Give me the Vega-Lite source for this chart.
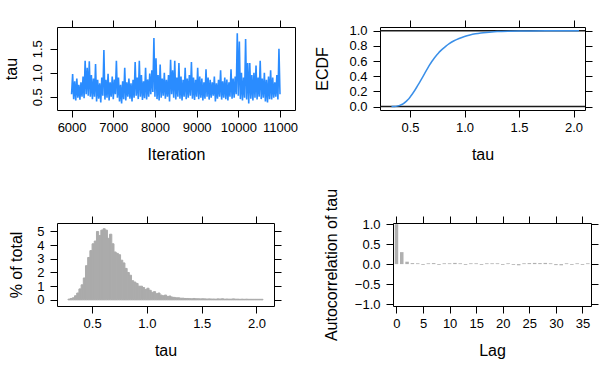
{
  "$schema": "https://vega.github.io/schema/vega-lite/v6.json",
  "padding": {"left": 2, "top": 19, "right": 5, "bottom": 5},
  "background": "white",
  "datasets": {
    "trace": [
      {"i":6000,"t":0.55},{"i":6025,"t":0.97},{"i":6050,"t":0.45},{"i":6075,"t":0.82},{"i":6100,"t":0.42},{"i":6125,"t":0.88},{"i":6150,"t":0.48},{"i":6175,"t":0.75},{"i":6200,"t":0.44},{"i":6225,"t":0.80},
      {"i":6250,"t":0.50},{"i":6275,"t":0.92},{"i":6300,"t":0.47},{"i":6325,"t":1.25},{"i":6350,"t":0.55},{"i":6375,"t":1.10},{"i":6400,"t":0.52},{"i":6425,"t":1.24},{"i":6450,"t":0.50},{"i":6475,"t":0.95},
      {"i":6500,"t":0.45},{"i":6525,"t":0.88},{"i":6550,"t":0.50},{"i":6575,"t":1.18},{"i":6600,"t":0.40},{"i":6625,"t":0.85},{"i":6650,"t":0.46},{"i":6675,"t":0.78},{"i":6700,"t":0.38},{"i":6725,"t":0.90},
      {"i":6750,"t":0.52},{"i":6775,"t":1.47},{"i":6800,"t":0.44},{"i":6825,"t":0.85},{"i":6850,"t":0.48},{"i":6875,"t":0.98},{"i":6900,"t":0.42},{"i":6925,"t":0.80},{"i":6950,"t":0.50},{"i":6975,"t":0.92},
      {"i":7000,"t":0.45},{"i":7025,"t":0.86},{"i":7050,"t":0.55},{"i":7075,"t":1.25},{"i":7100,"t":0.48},{"i":7125,"t":0.90},{"i":7150,"t":0.40},{"i":7175,"t":0.75},{"i":7200,"t":0.36},{"i":7225,"t":0.82},
      {"i":7250,"t":0.45},{"i":7275,"t":1.10},{"i":7300,"t":0.42},{"i":7325,"t":0.80},{"i":7350,"t":0.50},{"i":7375,"t":0.88},{"i":7400,"t":0.46},{"i":7425,"t":0.78},{"i":7450,"t":0.40},{"i":7475,"t":0.85},
      {"i":7500,"t":0.48},{"i":7525,"t":1.22},{"i":7550,"t":0.52},{"i":7575,"t":0.90},{"i":7600,"t":0.45},{"i":7625,"t":1.25},{"i":7650,"t":0.50},{"i":7675,"t":0.95},{"i":7700,"t":0.43},{"i":7725,"t":0.82},
      {"i":7750,"t":0.47},{"i":7775,"t":1.10},{"i":7800,"t":0.44},{"i":7825,"t":0.86},{"i":7850,"t":0.50},{"i":7875,"t":0.98},{"i":7900,"t":0.55},{"i":7925,"t":1.05},{"i":7950,"t":0.60},{"i":7975,"t":1.72},
      {"i":8000,"t":0.50},{"i":8025,"t":1.30},{"i":8050,"t":0.45},{"i":8075,"t":0.95},{"i":8100,"t":0.42},{"i":8125,"t":1.17},{"i":8150,"t":0.48},{"i":8175,"t":0.88},{"i":8200,"t":0.52},{"i":8225,"t":1.00},
      {"i":8250,"t":0.46},{"i":8275,"t":0.85},{"i":8300,"t":0.50},{"i":8325,"t":0.95},{"i":8350,"t":0.40},{"i":8375,"t":1.27},{"i":8400,"t":0.55},{"i":8425,"t":1.05},{"i":8450,"t":0.48},{"i":8475,"t":1.25},
      {"i":8500,"t":0.44},{"i":8525,"t":0.90},{"i":8550,"t":0.50},{"i":8575,"t":1.20},{"i":8600,"t":0.46},{"i":8625,"t":0.92},{"i":8650,"t":0.42},{"i":8675,"t":0.85},{"i":8700,"t":0.50},{"i":8725,"t":1.10},
      {"i":8750,"t":0.45},{"i":8775,"t":0.88},{"i":8800,"t":0.48},{"i":8825,"t":0.95},{"i":8850,"t":0.52},{"i":8875,"t":1.22},{"i":8900,"t":0.46},{"i":8925,"t":0.90},{"i":8950,"t":0.43},{"i":8975,"t":0.85},
      {"i":9000,"t":0.50},{"i":9025,"t":1.10},{"i":9050,"t":0.45},{"i":9075,"t":0.92},{"i":9100,"t":0.48},{"i":9125,"t":0.88},{"i":9150,"t":0.42},{"i":9175,"t":0.80},{"i":9200,"t":0.46},{"i":9225,"t":1.07},
      {"i":9250,"t":0.50},{"i":9275,"t":0.90},{"i":9300,"t":0.44},{"i":9325,"t":0.85},{"i":9350,"t":0.48},{"i":9375,"t":0.80},{"i":9400,"t":0.52},{"i":9425,"t":0.92},{"i":9450,"t":0.40},{"i":9475,"t":0.78},
      {"i":9500,"t":0.46},{"i":9525,"t":0.85},{"i":9550,"t":0.50},{"i":9575,"t":1.05},{"i":9600,"t":0.44},{"i":9625,"t":0.82},{"i":9650,"t":0.48},{"i":9675,"t":0.90},{"i":9700,"t":0.45},{"i":9725,"t":0.86},
      {"i":9750,"t":0.42},{"i":9775,"t":0.80},{"i":9800,"t":0.50},{"i":9825,"t":1.07},{"i":9850,"t":0.46},{"i":9875,"t":0.88},{"i":9900,"t":0.48},{"i":9925,"t":0.92},{"i":9950,"t":0.55},{"i":9975,"t":1.82},
      {"i":10000,"t":0.52},{"i":10025,"t":1.65},{"i":10050,"t":0.45},{"i":10075,"t":1.00},{"i":10100,"t":0.42},{"i":10125,"t":0.90},{"i":10150,"t":0.48},{"i":10175,"t":1.70},{"i":10200,"t":0.44},{"i":10225,"t":1.20},
      {"i":10250,"t":0.36},{"i":10275,"t":1.20},{"i":10300,"t":0.46},{"i":10325,"t":0.95},{"i":10350,"t":0.42},{"i":10375,"t":1.00},{"i":10400,"t":0.48},{"i":10425,"t":1.15},{"i":10450,"t":0.44},{"i":10475,"t":0.90},
      {"i":10500,"t":0.50},{"i":10525,"t":1.25},{"i":10550,"t":0.45},{"i":10575,"t":0.88},{"i":10600,"t":0.48},{"i":10625,"t":1.00},{"i":10650,"t":0.40},{"i":10675,"t":0.85},{"i":10700,"t":0.38},{"i":10725,"t":0.92},
      {"i":10750,"t":0.45},{"i":10775,"t":1.05},{"i":10800,"t":0.44},{"i":10825,"t":0.90},{"i":10850,"t":0.48},{"i":10875,"t":0.80},{"i":10900,"t":0.50},{"i":10925,"t":0.95},{"i":10950,"t":0.44},{"i":10975,"t":1.50},
      {"i":11000,"t":0.55}
    ],
    "ecdf": [
      {"x":0.33,"F":0},{"x":0.36,"F":0.002},{"x":0.38,"F":0.006},{"x":0.40,"F":0.013},{"x":0.42,"F":0.024},{"x":0.44,"F":0.04},{"x":0.46,"F":0.062},{"x":0.48,"F":0.09},{"x":0.50,"F":0.124},{"x":0.52,"F":0.163},{"x":0.54,"F":0.206},{"x":0.56,"F":0.252},{"x":0.58,"F":0.30},{"x":0.60,"F":0.35},{"x":0.62,"F":0.40},{"x":0.64,"F":0.45},{"x":0.66,"F":0.50},{"x":0.68,"F":0.55},{"x":0.70,"F":0.595},{"x":0.72,"F":0.635},{"x":0.74,"F":0.672},{"x":0.76,"F":0.705},{"x":0.78,"F":0.735},{"x":0.80,"F":0.762},{"x":0.83,"F":0.798},{"x":0.86,"F":0.83},{"x":0.90,"F":0.865},{"x":0.95,"F":0.898},{"x":1.00,"F":0.925},{"x":1.05,"F":0.945},{"x":1.10,"F":0.96},{"x":1.15,"F":0.971},{"x":1.20,"F":0.979},{"x":1.25,"F":0.985},{"x":1.30,"F":0.989},{"x":1.40,"F":0.994},{"x":1.50,"F":0.997},{"x":1.60,"F":0.998},{"x":1.75,"F":0.999},{"x":1.90,"F":0.9995},{"x":2.05,"F":1.0}
    ],
    "hist": [
      {"lo":0.28,"hi":0.30,"p":0.05},{"lo":0.30,"hi":0.32,"p":0.1},{"lo":0.32,"hi":0.34,"p":0.15},{"lo":0.34,"hi":0.36,"p":0.3},{"lo":0.36,"hi":0.38,"p":0.5},{"lo":0.38,"hi":0.40,"p":0.8},{"lo":0.40,"hi":0.42,"p":1.1},{"lo":0.42,"hi":0.44,"p":1.6},{"lo":0.44,"hi":0.46,"p":2.5},{"lo":0.46,"hi":0.48,"p":3.1},
      {"lo":0.48,"hi":0.50,"p":3.6},{"lo":0.50,"hi":0.52,"p":4.1},{"lo":0.52,"hi":0.54,"p":4.3},{"lo":0.54,"hi":0.56,"p":5.0},{"lo":0.56,"hi":0.58,"p":4.7},{"lo":0.58,"hi":0.60,"p":5.1},{"lo":0.60,"hi":0.62,"p":5.2},{"lo":0.62,"hi":0.64,"p":5.1},{"lo":0.64,"hi":0.66,"p":4.5},{"lo":0.66,"hi":0.68,"p":4.8},
      {"lo":0.68,"hi":0.70,"p":4.1},{"lo":0.70,"hi":0.72,"p":3.5},{"lo":0.72,"hi":0.74,"p":3.4},{"lo":0.74,"hi":0.76,"p":3.3},{"lo":0.76,"hi":0.78,"p":2.9},{"lo":0.78,"hi":0.80,"p":2.7},{"lo":0.80,"hi":0.82,"p":2.3},{"lo":0.82,"hi":0.84,"p":2.0},{"lo":0.84,"hi":0.86,"p":1.8},{"lo":0.86,"hi":0.88,"p":1.4},
      {"lo":0.88,"hi":0.90,"p":1.3},{"lo":0.90,"hi":0.92,"p":1.2},{"lo":0.92,"hi":0.94,"p":1.0},{"lo":0.94,"hi":0.96,"p":1.0},{"lo":0.96,"hi":0.98,"p":0.9},{"lo":0.98,"hi":1.00,"p":0.75},{"lo":1.00,"hi":1.02,"p":0.85},{"lo":1.02,"hi":1.04,"p":0.7},{"lo":1.04,"hi":1.06,"p":0.55},{"lo":1.06,"hi":1.08,"p":0.6},
      {"lo":1.08,"hi":1.10,"p":0.45},{"lo":1.10,"hi":1.12,"p":0.5},{"lo":1.12,"hi":1.14,"p":0.35},{"lo":1.14,"hi":1.16,"p":0.3},{"lo":1.16,"hi":1.18,"p":0.35},{"lo":1.18,"hi":1.20,"p":0.25},{"lo":1.20,"hi":1.22,"p":0.28},{"lo":1.22,"hi":1.24,"p":0.2},{"lo":1.24,"hi":1.26,"p":0.18},{"lo":1.26,"hi":1.28,"p":0.15},
      {"lo":1.28,"hi":1.30,"p":0.15},{"lo":1.30,"hi":1.32,"p":0.12},{"lo":1.32,"hi":1.34,"p":0.12},{"lo":1.34,"hi":1.36,"p":0.1},{"lo":1.36,"hi":1.38,"p":0.1},{"lo":1.38,"hi":1.40,"p":0.09},{"lo":1.40,"hi":1.42,"p":0.08},{"lo":1.42,"hi":1.44,"p":0.1},{"lo":1.44,"hi":1.46,"p":0.08},{"lo":1.46,"hi":1.48,"p":0.08},
      {"lo":1.48,"hi":1.50,"p":0.07},{"lo":1.50,"hi":1.52,"p":0.08},{"lo":1.52,"hi":1.54,"p":0.07},{"lo":1.54,"hi":1.56,"p":0.06},{"lo":1.56,"hi":1.58,"p":0.07},{"lo":1.58,"hi":1.60,"p":0.06},{"lo":1.60,"hi":1.62,"p":0.06},{"lo":1.62,"hi":1.64,"p":0.05},{"lo":1.64,"hi":1.66,"p":0.07},{"lo":1.66,"hi":1.68,"p":0.06},
      {"lo":1.68,"hi":1.70,"p":0.08},{"lo":1.70,"hi":1.72,"p":0.05},{"lo":1.72,"hi":1.74,"p":0.06},{"lo":1.74,"hi":1.76,"p":0.05},{"lo":1.76,"hi":1.78,"p":0.05},{"lo":1.78,"hi":1.80,"p":0.07},{"lo":1.80,"hi":1.82,"p":0.05},{"lo":1.82,"hi":1.84,"p":0.05},{"lo":1.84,"hi":1.86,"p":0.04},{"lo":1.86,"hi":1.88,"p":0.05},
      {"lo":1.88,"hi":1.90,"p":0.04},{"lo":1.90,"hi":1.92,"p":0.05},{"lo":1.92,"hi":1.94,"p":0.04},{"lo":1.94,"hi":1.96,"p":0.04},{"lo":1.96,"hi":1.98,"p":0.04},{"lo":1.98,"hi":2.00,"p":0.04},{"lo":2.00,"hi":2.02,"p":0.04},{"lo":2.02,"hi":2.04,"p":0.04},{"lo":2.04,"hi":2.06,"p":0.04}
    ],
    "acf": [
      {"lag":0,"a":1.0},{"lag":1,"a":0.30},{"lag":2,"a":0.06},{"lag":3,"a":0.025},{"lag":4,"a":0.02},{"lag":5,"a":-0.02},{"lag":6,"a":0.02},{"lag":7,"a":0.025},{"lag":8,"a":-0.02},{"lag":9,"a":0.02},
      {"lag":10,"a":0.02},{"lag":11,"a":0.03},{"lag":12,"a":0.02},{"lag":13,"a":-0.02},{"lag":14,"a":0.02},{"lag":15,"a":0.02},{"lag":16,"a":-0.02},{"lag":17,"a":0.02},{"lag":18,"a":0.02},{"lag":19,"a":0.02},
      {"lag":20,"a":-0.02},{"lag":21,"a":0.02},{"lag":22,"a":-0.02},{"lag":23,"a":-0.03},{"lag":24,"a":0.02},{"lag":25,"a":0.025},{"lag":26,"a":0.03},{"lag":27,"a":0.025},{"lag":28,"a":0.03},{"lag":29,"a":0.02},
      {"lag":30,"a":-0.025},{"lag":31,"a":-0.03},{"lag":32,"a":0.02},{"lag":33,"a":-0.02},{"lag":34,"a":0.02},{"lag":35,"a":-0.02},{"lag":36,"a":0.02}
    ]
  },
  "vconcat": [
    {
      "bounds": "flush",
      "spacing": 85,
      "hconcat": [
        {
          "width": 238, "height": 83,
          "data": {"name": "trace"},
          "layer": [
            {
              "mark": {"type": "line", "color": "#2a8cff", "strokeWidth": 1.6},
              "encoding": {
                "x": {"field": "i", "type": "quantitative", "scale": {"domain": [5650, 11360], "nice": false, "zero": false},
                      "axis": {"orient": "bottom", "values": [6000, 7000, 8000, 9000, 10000, 11000], "format": "d", "title": "Iteration"}},
                "y": {"field": "t", "type": "quantitative", "scale": {"domain": [0.223, 1.952], "nice": false, "zero": false},
                      "axis": {"orient": "left", "values": [0.5, 1.0, 1.5], "format": ".1f", "title": "tau", "labelAngle": -90, "labelAlign": "center", "labelBaseline": "bottom", "labelPadding": 6}}
              }
            },
            {
              "mark": {"type": "point", "opacity": 0},
              "encoding": {
                "x": {"field": "i", "type": "quantitative", "axis": {"orient": "top", "values": [6000, 7000, 8000, 9000, 10000, 11000], "labels": false, "title": null}},
                "y": {"field": "t", "type": "quantitative", "axis": null}
              }
            }
          ],
          "resolve": {"axis": {"x": "independent", "y": "independent"}}
        },
        {
          "width": 205, "height": 83,
          "layer": [
            {
              "data": {"values": [{"h": 0}, {"h": 1}]},
              "mark": {"type": "rule", "color": "#1a1a1a", "strokeWidth": 1.5},
              "encoding": {"y": {"field": "h", "type": "quantitative", "axis": null}}
            },
            {
              "data": {"name": "ecdf"},
              "mark": {"type": "line", "color": "#3a8fe8", "strokeWidth": 1.5, "interpolate": "monotone"},
              "encoding": {
                "x": {"field": "x", "type": "quantitative", "scale": {"domain": [0.225, 2.105], "nice": false, "zero": false},
                      "axis": {"orient": "bottom", "values": [0.5, 1.0, 1.5, 2.0], "format": ".1f", "title": "tau"}},
                "y": {"field": "F", "type": "quantitative", "scale": {"domain": [-0.045, 1.05], "nice": false, "zero": false},
                      "axis": {"orient": "left", "values": [0, 0.2, 0.4, 0.6, 0.8, 1.0], "format": ".1f", "title": "ECDF", "labelPadding": 6, "titlePadding": 18}}
              }
            },
            {
              "data": {"name": "ecdf"},
              "mark": {"type": "point", "opacity": 0},
              "encoding": {
                "x": {"field": "x", "type": "quantitative", "axis": {"orient": "top", "values": [0.5, 1.0, 1.5, 2.0], "labels": false, "title": null}},
                "y": {"field": "F", "type": "quantitative", "axis": {"orient": "right", "values": [0, 0.2, 0.4, 0.6, 0.8, 1.0], "labels": false, "title": null}}
              }
            }
          ],
          "resolve": {"axis": {"x": "independent", "y": "independent"}}
        }
      ]
    },
    {
      "bounds": "flush",
      "spacing": 119,
      "hconcat": [
        {
          "width": 217, "height": 83,
          "data": {"name": "hist"},
          "layer": [
            {
              "mark": {"type": "bar", "color": "#ababab", "stroke": "#ababab", "strokeWidth": 1},
              "encoding": {
                "x": {"field": "lo", "type": "quantitative", "scale": {"domain": [0.18, 2.16], "nice": false, "zero": false},
                      "axis": {"orient": "bottom", "values": [0.5, 1.0, 1.5, 2.0], "format": ".1f", "title": "tau"}},
                "x2": {"field": "hi"},
                "y": {"field": "p", "type": "quantitative", "scale": {"domain": [-0.45, 5.62], "nice": false, "zero": false},
                      "axis": {"orient": "left", "values": [0, 1, 2, 3, 4, 5], "format": "d", "title": "% of total", "labelPadding": 6, "titlePadding": 12}},
                "y2": {"datum": 0}
              }
            },
            {
              "mark": {"type": "point", "opacity": 0},
              "encoding": {
                "x": {"field": "lo", "type": "quantitative", "axis": {"orient": "top", "values": [0.5, 1.0, 1.5, 2.0], "labels": false, "title": null}},
                "y": {"field": "p", "type": "quantitative", "axis": {"orient": "right", "values": [0, 1, 2, 3, 4, 5], "labels": false, "title": null}}
              }
            }
          ],
          "resolve": {"axis": {"x": "independent", "y": "independent"}}
        },
        {
          "width": 198, "height": 83,
          "data": {"name": "acf"},
          "layer": [
            {
              "mark": {"type": "rule", "color": "#b0b0b0", "strokeWidth": 3.5},
              "encoding": {
                "x": {"field": "lag", "type": "quantitative", "scale": {"domain": [-0.65, 36.6], "nice": false, "zero": false},
                      "axis": {"orient": "bottom", "values": [0, 5, 10, 15, 20, 25, 30, 35], "format": "d", "title": "Lag"}},
                "y": {"field": "a", "type": "quantitative", "scale": {"domain": [-1.05, 1.03], "nice": false, "zero": false},
                      "axis": {"orient": "left", "values": [-1, -0.5, 0, 0.5, 1], "format": ".1f", "title": "Autocorrelation of tau", "labelPadding": 6, "titlePadding": 15}},
                "y2": {"datum": 0}
              }
            },
            {
              "mark": {"type": "point", "opacity": 0},
              "encoding": {
                "x": {"field": "lag", "type": "quantitative", "axis": {"orient": "top", "values": [0, 5, 10, 15, 20, 25, 30, 35], "labels": false, "title": null}},
                "y": {"field": "a", "type": "quantitative", "axis": {"orient": "right", "values": [-1, -0.5, 0, 0.5, 1], "labels": false, "title": null}}
              }
            }
          ],
          "resolve": {"axis": {"x": "independent", "y": "independent"}}
        }
      ]
    }
  ],
  "spacing": 24,
  "config": {
    "font": "Liberation Sans",
    "view": {"stroke": "#000", "strokeWidth": 1},
    "axis": {
      "domain": false, "grid": false, "ticks": true,
      "tickColor": "#000", "tickSize": 7, "tickWidth": 1,
      "labelFont": "Liberation Sans", "labelFontSize": 13, "labelColor": "#000",
      "labelPadding": 4, "labelFlush": false, "labelOverlap": false, "labelBound": false,
      "titleFont": "Liberation Sans", "titleFontSize": 16, "titleFontWeight": "normal", "titleColor": "#000",
      "titlePadding": 12
    }
  }
}
